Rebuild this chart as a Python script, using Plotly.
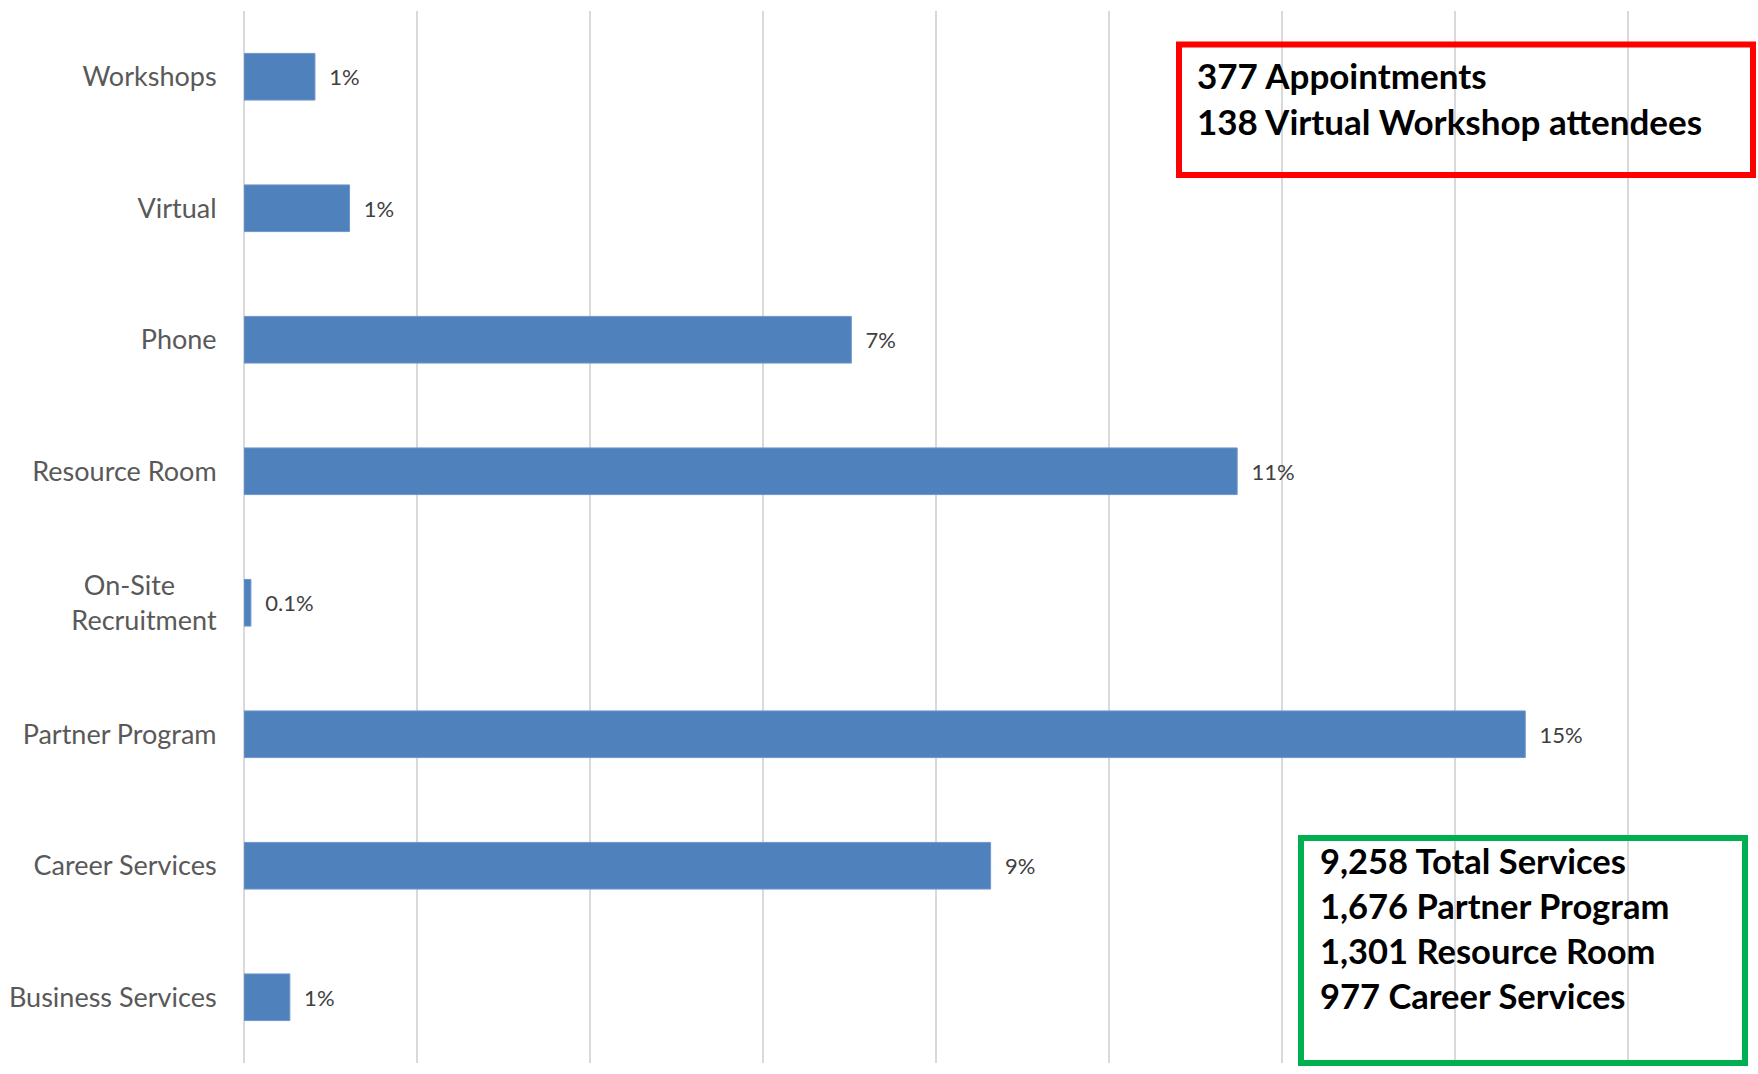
import plotly.graph_objects as go

# ---- data ----
categories = ["Workshops", "Virtual", "Phone", "Resource Room", "On-Site Recruitment",
              "Partner Program", "Career Services", "Business Services"]
tick_text = ["Workshops", "Virtual", "Phone", "Resource Room",
             "On-Site\u00a0\u00a0\u00a0\u00a0\u00a0\u00a0<br>Recruitment",
             "Partner Program", "Career Services", "Business Services"]
values_pct = [0.82, 1.22, 7.02, 11.48, 0.08, 14.81, 8.63, 0.53]
value_labels = ["1%", "1%", "7%", "11%", "0.1%", "15%", "9%", "1%"]

appointments_text = ["377 Appointments", "138 Virtual Workshop attendees"]
services_text = ["9,258 Total Services", "1,676 Partner Program",
                 "1,301 Resource Room", "977 Career Services"]

# ---- layout geometry (pixels) ----
W, H = 1758, 1074
PL, PR, PT, PB = 244, 1758, 11, 1063


def px(x):
    return (x - PL) / (PR - PL)


def py(y):
    return (PB - y) / (PB - PT)


fig = go.Figure()
fig.add_trace(go.Bar(
    y=categories,
    x=values_pct,
    orientation="h",
    marker=dict(color="#4f81bd", line=dict(color="#6f97cc", width=1)),
    text=["\u00a0\u00a0" + t for t in value_labels],
    textposition="outside",
    textfont=dict(family="Lato", size=22, color="#404040"),
    cliponaxis=False,
    hoverinfo="skip",
))

fig.update_layout(
    width=W, height=H,
    margin=dict(l=PL, r=W - PR, t=PT, b=H - PB, pad=0),
    plot_bgcolor="white", paper_bgcolor="white",
    bargap=0.645,
    showlegend=False,
    xaxis=dict(range=[0, 17.5], dtick=2, showgrid=True, gridcolor="#d9d9d9", gridwidth=2,
               zeroline=True, zerolinecolor="#d9d9d9", zerolinewidth=2,
               showticklabels=False, showline=False, ticks=""),
    yaxis=dict(categoryorder="array", categoryarray=categories, autorange="reversed",
               tickmode="array", tickvals=categories, ticktext=tick_text,
               tickfont=dict(family="Lato", size=27, color="#595959"),
               ticks="outside", ticklen=21, tickcolor="rgba(0,0,0,0)",
               showgrid=False, showline=False, zeroline=False),
)

# red box
fig.add_shape(type="rect", xref="paper", yref="paper",
              x0=px(1179), x1=px(1753), y0=py(44.5), y1=py(175),
              line=dict(color="#ff0000", width=6), layer="above")
fig.add_annotation(xref="paper", yref="paper", x=px(1195), y=py(52),
                   xanchor="left", yanchor="top", align="left", showarrow=False,
                   text="<br>".join("<b>%s</b>" % t for t in appointments_text),
                   font=dict(family="Lato", size=35, color="black"))

# green box
fig.add_shape(type="rect", xref="paper", yref="paper",
              x0=px(1301), x1=px(1745), y0=py(838), y1=py(1063),
              line=dict(color="#00b050", width=6), layer="above")
fig.add_annotation(xref="paper", yref="paper", x=px(1318), y=py(838),
                   xanchor="left", yanchor="top", align="left", showarrow=False,
                   text="<br>".join("<b>%s</b>" % t for t in services_text),
                   font=dict(family="Lato", size=34.5, color="black"))

fig.write_html("out.html", config={"displayModeBar": False},
               post_script="document.body.style.margin='0px';")
